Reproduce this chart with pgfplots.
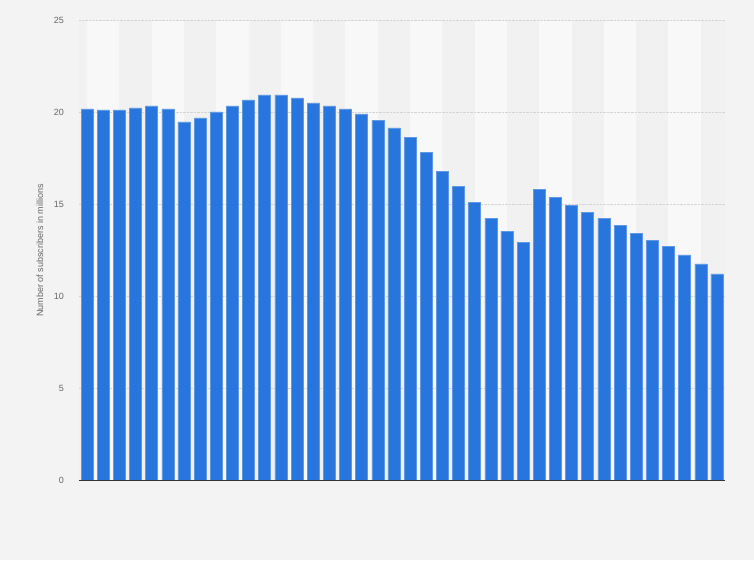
\documentclass[border=0pt]{standalone}
\usepackage{pgfplots}
\pgfplotsset{compat=1.18}
\usepackage{fontspec}
\setmainfont{Liberation Sans}
\definecolor{bg}{HTML}{F3F3F3}
\definecolor{bandlight}{HTML}{F8F8F8}
\definecolor{banddark}{HTML}{F1F1F1}
\definecolor{barblue}{HTML}{2876DD}
\definecolor{baredge}{HTML}{5E99E6}
\definecolor{txt}{HTML}{666666}
\begin{document}
\begin{tikzpicture}
\begin{axis}[
  set layers,
  clip=false,
  at={(79pt,79.3pt)}, anchor=south west,
  scale only axis, width=646pt, height=460pt,
  xmin=-0.5, xmax=39.5, ymin=0, ymax=25,
  enlarge x limits=false,
  axis line style={draw=none},
  xtick=\empty,
  ytick={0,5,10,15,20,25},
  major tick length=0pt,
  ymajorgrids,
  grid style={densely dotted, color=black!17, line width=0.6pt},
  /pgf/number format/assume math mode=true,
  yticklabel style={font=\fontsize{9}{9}\selectfont, text=txt, inner sep=0pt, anchor=east, xshift=-15pt},
  ylabel={Number of subscribers in millions},
  ylabel style={font=\fontsize{9}{9}\selectfont, text=txt, at={(axis description cs:-0.0604,0.5)}, anchor=center},
]
\begin{pgfonlayer}{axis background}
\fill[bg] ([xshift=-79pt,yshift=-79.3pt]axis cs:-0.5,0) rectangle ([xshift=675pt,yshift=480.7pt]axis cs:-0.5,0);
\fill[banddark] (axis cs:-0.5,0) rectangle (axis cs:39.5,25);
\pgfplotsinvokeforeach{0,4,...,36}{
  \fill[bandlight] (axis cs:#1,0) rectangle (axis cs:#1+2,25);
}
\end{pgfonlayer}
\addplot[ybar, bar width=12pt, fill=barblue, draw=baredge, line width=0.5pt] coordinates {
(0,20.21) (1,20.16) (2,20.16) (3,20.26) (4,20.37) (5,20.21) (6,19.50) (7,19.72)
(8,20.05) (9,20.37) (10,20.70) (11,20.97) (12,20.97) (13,20.80) (14,20.54) (15,20.37)
(16,20.21) (17,19.94) (18,19.58) (19,19.18) (20,18.65) (21,17.84) (22,16.80) (23,15.98)
(24,15.11) (25,14.25) (26,13.54) (27,12.94) (28,15.82) (29,15.39) (30,14.96) (31,14.58)
(32,14.25) (33,13.87) (34,13.44) (35,13.06) (36,12.73) (37,12.27) (38,11.79) (39,11.24)
};
\draw[color=black!80, line width=0.8pt] (axis cs:-0.5,0) -- (axis cs:39.5,0);
\end{axis}
\end{tikzpicture}
\end{document}
